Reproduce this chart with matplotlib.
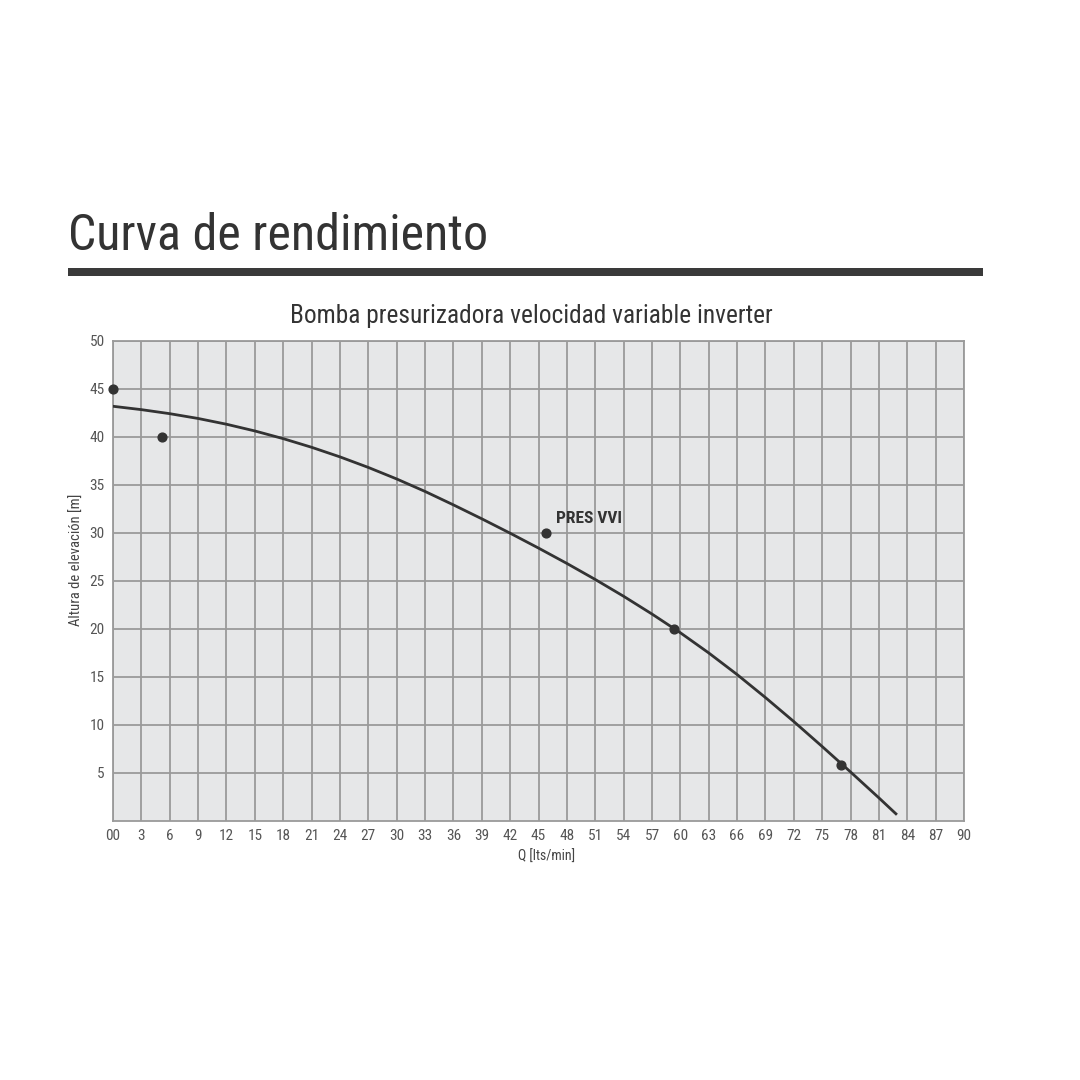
import matplotlib
matplotlib.use("Agg")
import matplotlib.pyplot as plt
from matplotlib import font_manager

# ---- data ----
curve_q = [0, 3, 6, 9, 12, 15, 18, 21, 24, 27, 30, 33, 36, 39, 42, 45, 48, 51,
           54, 57, 60, 63, 66, 69, 72, 75, 78, 81, 82.8]
curve_h = [43.2, 42.85, 42.43, 41.93, 41.33, 40.63, 39.83, 38.93, 37.93, 36.83,
           35.63, 34.33, 32.93, 31.48, 29.98, 28.43, 26.83, 25.16, 23.41, 21.56,
           19.61, 17.51, 15.26, 12.86, 10.36, 7.76, 5.11, 2.41, 0.75]
point_q = [0, 5.2, 45.8, 59.3, 77.0]
point_h = [45, 40, 30, 20, 5.8]
series_label = "PRES VVI"
label_pos = (46.8, 31.0)
x_ticks = list(range(0, 91, 3))
x_tick_labels = ["00"] + [str(v) for v in x_ticks[1:]]
y_ticks = list(range(5, 51, 5))

names = {f.name for f in font_manager.fontManager.ttflist}
cond = [n for n in ["Roboto Condensed", "Liberation Sans Narrow", "Open Sans Condensed"] if n in names]
fam = cond + ["Liberation Sans", "DejaVu Sans"]
plt.rcParams['font.family'] = fam

fig = plt.figure(figsize=(10.8, 10.8), dpi=100)
fig.patch.set_facecolor("white")

ax = fig.add_axes([113/1080, 1-821/1080, 851/1080, 480/1080])
ax.set_facecolor("#e6e7e8")
ax.set_xlim(0, 90)
ax.set_ylim(0, 50)
ax.set_xticks(x_ticks)
ax.set_xticklabels(x_tick_labels)
ax.set_yticks(y_ticks)
ax.tick_params(length=0, labelsize=11, colors="#555555", pad=6)
ax.grid(True, color="#9a9a9a", linewidth=1.3)
ax.set_axisbelow(True)
for s in ax.spines.values():
    s.set_color("#9a9a9a")
    s.set_linewidth(1.3)

ax.plot(curve_q, curve_h, color="#333333", linewidth=2.0, zorder=3,
        solid_joinstyle="round")
ax.scatter(point_q, point_h, s=40, color="#333333", zorder=4, clip_on=False)
ax.text(label_pos[0], label_pos[1], series_label, fontsize=12.5, fontweight="bold",
        color="#333333", zorder=5)

ax.set_xlabel("Q [lts/min]", fontsize=10, color="#444444", labelpad=6)
ax.xaxis.set_label_coords(0.51, -0.06)
ax.set_ylabel("Altura de elevación [m]", fontsize=10.5, color="#444444")
ax.yaxis.set_label_coords(-0.034, 0.545)

fig.text(68/1080, 1-250/1080, "Curva de rendimiento", fontsize=36, color="#333333",
         ha="left", va="baseline")
fig.add_artist(plt.Rectangle((68/1080, 1-276/1080), (983-68)/1080, 8/1080,
                             transform=fig.transFigure, color="#3a3a3a", lw=0))
fig.text(531/1080, 1-323/1080, "Bomba presurizadora velocidad variable inverter",
         fontsize=18.3, color="#333333", ha="center", va="baseline")

fig.savefig("out.png", dpi=100)
